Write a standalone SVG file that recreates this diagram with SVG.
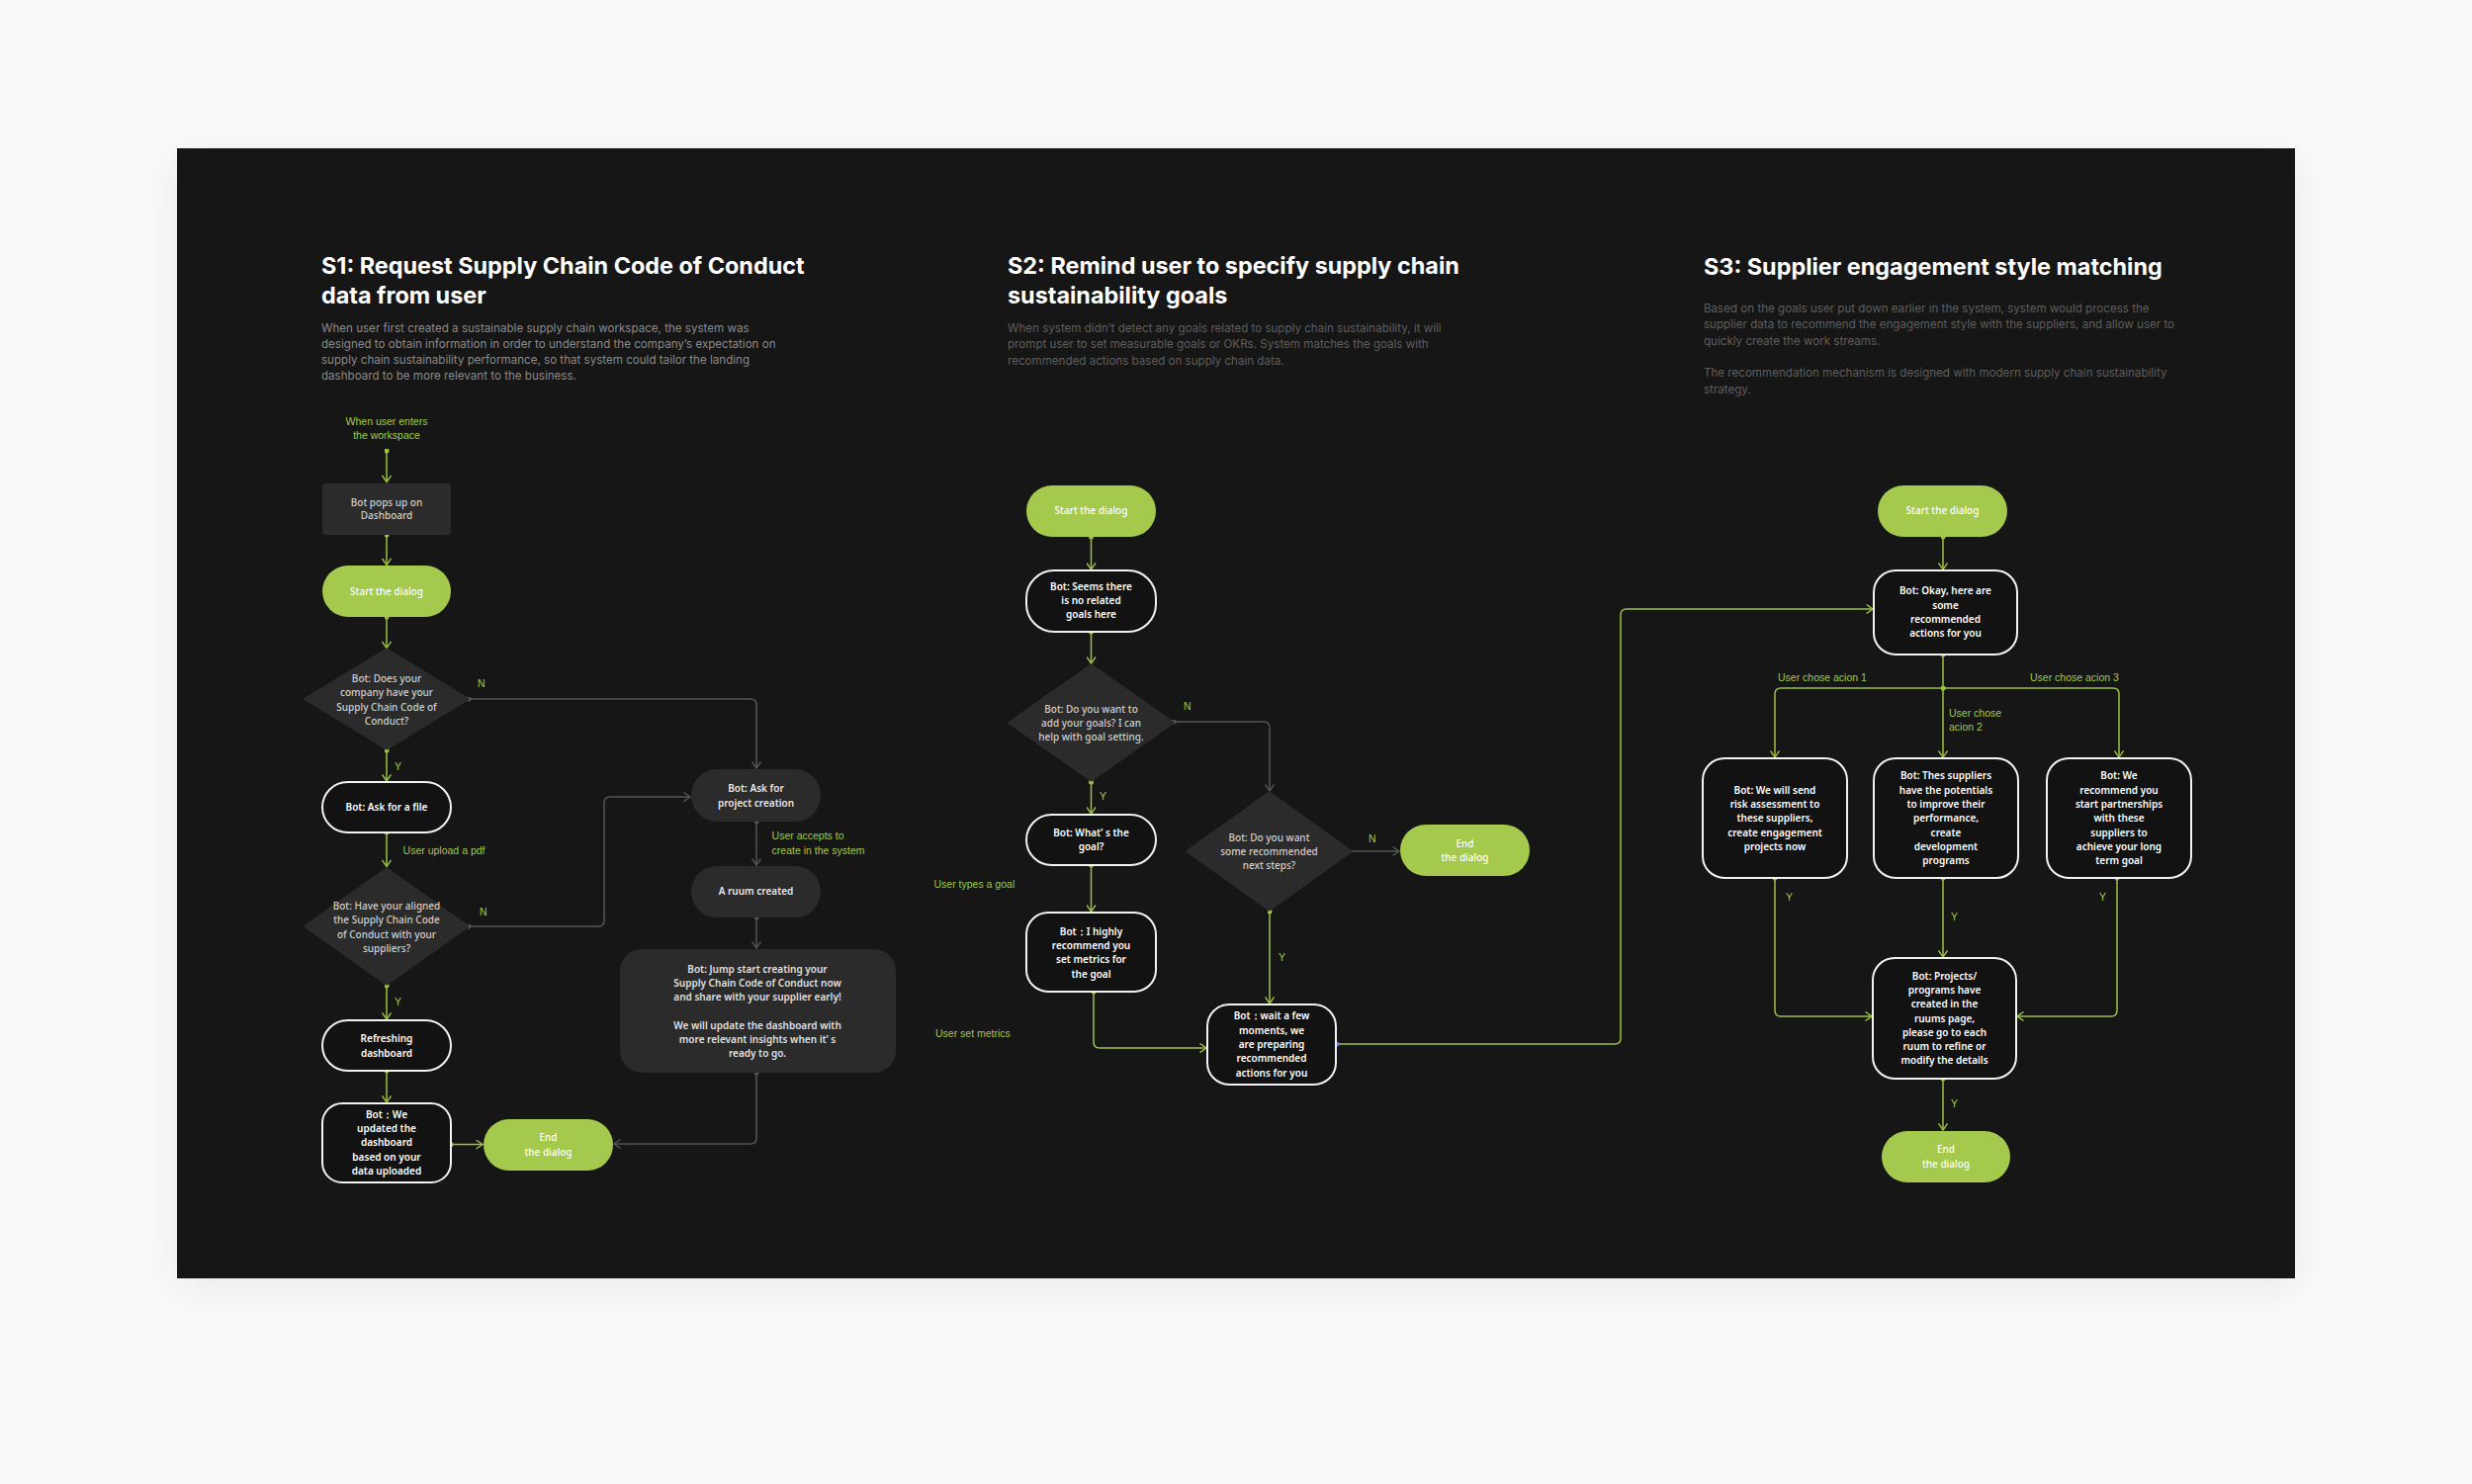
<svg xmlns="http://www.w3.org/2000/svg" width="2500" height="1501" viewBox="0 0 2500 1501">
<defs>
<filter id="sh" x="-10%" y="-10%" width="120%" height="130%"><feDropShadow dx="0" dy="10" stdDeviation="22" flood-color="#000" flood-opacity="0.07"/></filter>
<marker id="ag" viewBox="0 0 10 10" refX="9" refY="5" markerWidth="10" markerHeight="10" markerUnits="userSpaceOnUse" orient="auto"><path d="M2.5,0.5 L9,5 L2.5,9.5" fill="none" stroke="#9cc142" stroke-width="1.4"/></marker>
<marker id="ax" viewBox="0 0 10 10" refX="9" refY="5" markerWidth="10" markerHeight="10" markerUnits="userSpaceOnUse" orient="auto"><path d="M2.5,0.5 L9,5 L2.5,9.5" fill="none" stroke="#555" stroke-width="1.4"/></marker>
<marker id="dg" viewBox="0 0 6 6" refX="3" refY="3" markerWidth="5" markerHeight="5" markerUnits="userSpaceOnUse"><circle cx="3" cy="3" r="3" fill="#9cc142"/></marker>
<marker id="dx" viewBox="0 0 6 6" refX="3" refY="3" markerWidth="5" markerHeight="5" markerUnits="userSpaceOnUse"><circle cx="3" cy="3" r="3" fill="#555"/></marker>
<marker id="dv" viewBox="0 0 6 6" refX="3" refY="3" markerWidth="5" markerHeight="5" markerUnits="userSpaceOnUse"><circle cx="3" cy="3" r="3" fill="#6f6cf0"/></marker>
</defs>
<style>
.title{font-family:Inter,"Noto Sans",sans-serif;font-weight:700;font-size:23.4px;fill:#ffffff}
.desc{font-family:Inter,"Noto Sans",sans-serif;font-size:11.6px;fill:#8a8a8a}
.desc2{fill:#5e5e5e}
.n{font-family:"Noto Sans","Open Sans",sans-serif;font-size:10px;text-anchor:middle}
.nb{font-weight:600;fill:#ffffff}
.ng{font-weight:500;fill:#cfcfcf}
.nw{font-weight:500;fill:#ffffff}
.lbl{font-family:"Liberation Sans",Arial,sans-serif;font-size:10.5px;fill:#a3c94b}
.lblc{text-anchor:middle}
.green{fill:#a4c94c}
.gray{fill:#2b2b2b}
.dia{fill:#2b2b2b;stroke:#2b2b2b;stroke-width:3;stroke-linejoin:round}
.out{fill:#121212;stroke:#f2f2f2;stroke-width:2}
.cg{fill:none;stroke:#9cc142;stroke-width:1.5;marker-start:url(#dg);marker-end:url(#ag)}
.cx{fill:none;stroke:#555;stroke-width:1.5;marker-start:url(#dx);marker-end:url(#ax)}
.cv{fill:none;stroke:#9cc142;stroke-width:1.5;marker-start:url(#dv);marker-end:url(#ag)}
</style>
<rect x="0" y="0" width="2500" height="1501" fill="#fafafa"/>
<rect x="179" y="150" width="2142" height="1143" fill="#161616" filter="url(#sh)"/>

<g id="headings">
<text class="title" x="325" y="277">S1: Request Supply Chain Code of Conduct</text>
<text class="title" x="325" y="307">data from user</text>
<text class="desc" x="325" y="336">When user first created a sustainable supply chain workspace,  the system was</text>
<text class="desc" x="325" y="352">designed to obtain information in order to understand the company’s expectation on</text>
<text class="desc" x="325" y="368">supply chain sustainability performance, so that system could tailor the landing</text>
<text class="desc" x="325" y="384">dashboard to be more relevant to the business.</text>

<text class="title" x="1019" y="277">S2: Remind user to specify supply chain</text>
<text class="title" x="1019" y="307">sustainability goals</text>
<text class="desc desc2" x="1019" y="336">When system didn’t detect any goals related to supply chain sustainability, it will</text>
<text class="desc desc2" x="1019" y="352">prompt user to set measurable goals or OKRs. System matches the goals with</text>
<text class="desc desc2" x="1019" y="369">recommended actions based on supply chain data.</text>

<text class="title" x="1723" y="278">S3: Supplier engagement style matching</text>
<text class="desc desc2" x="1723" y="316">Based on the goals user put down earlier in the system, system would process the</text>
<text class="desc desc2" x="1723" y="332">supplier data to recommend the engagement style with the suppliers, and allow user to</text>
<text class="desc desc2" x="1723" y="349">quickly create the work streams.</text>
<text class="desc desc2" x="1723" y="381">The recommendation mechanism is designed with modern supply chain sustainability</text>
<text class="desc desc2" x="1723" y="398">strategy.</text>
</g>

<g id="connectors">
<path class="cg" d="M391,456 V487.5"/>
<path class="cg" d="M391,541 V571.5"/>
<path class="cg" d="M391,624 V655.5"/>
<path class="cg" d="M391,759 V790"/>
<path class="cx" d="M474,707 H759 Q765,707 765,713 V777"/>
<path class="cg" d="M391,842 V876.5"/>
<path class="cx" d="M474,937 H605 Q611,937 611,931 V812 Q611,806 617,806 H698"/>
<path class="cg" d="M391,997 V1031"/>
<path class="cg" d="M391,1083 V1115"/>
<path class="cg" d="M456,1157.5 H488"/>
<path class="cx" d="M765,831 V875"/>
<path class="cx" d="M765,928 V959"/>
<path class="cx" d="M765,1085 V1151 Q765,1157 759,1157 H621"/>

<path class="cg" d="M1103.5,543 V576"/>
<path class="cg" d="M1103.5,639 V671"/>
<path class="cg" d="M1103.5,791 V823"/>
<path class="cx" d="M1187,730 H1278 Q1284,730 1284,736 V800"/>
<path class="cg" d="M1103.5,875 V922"/>
<path class="cg" d="M1106,1003 V1054 Q1106,1060 1112,1060 H1220"/>
<path class="cg" d="M1284,922 V1015"/>
<path class="cx" d="M1363,861 H1415"/>
<path class="cv" d="M1352,1056 H1633 Q1639,1056 1639,1050 V622 Q1639,616 1645,616 H1894"/>

<path class="cg" d="M1965,543 V576"/>
<path class="cg" d="M1965,662 V766"/>
<path class="cg" d="M1965,696 H1801 Q1795,696 1795,702 V766"/>
<path class="cg" d="M1965,696 H2137 Q2143,696 2143,702 V766"/>
<path class="cg" d="M1795,888 V1022 Q1795,1028 1801,1028 H1893"/>
<path class="cg" d="M1965,888 V968"/>
<path class="cg" d="M2141,888 V1022 Q2141,1028 2135,1028 H2040"/>
<path class="cg" d="M1965,1091 V1143"/>
</g>

<g id="edge-labels">
<text class="lbl lblc" x="391" y="429.5">When user enters</text>
<text class="lbl lblc" x="391" y="444">the workspace</text>
<text class="lbl" x="483" y="695">N</text>
<text class="lbl" x="399" y="778.5">Y</text>
<text class="lbl" x="407.6" y="864.3">User upload a pdf</text>
<text class="lbl" x="485" y="925.8">N</text>
<text class="lbl" x="399" y="1016.8">Y</text>
<text class="lbl" x="780.6" y="849.3">User accepts to</text>
<text class="lbl" x="780.6" y="863.6">create in the system</text>

<text class="lbl" x="1197" y="717.8">N</text>
<text class="lbl" x="1112" y="808.5">Y</text>
<text class="lbl" x="944.5" y="897.8">User types a goal</text>
<text class="lbl" x="946" y="1049.3">User set metrics</text>
<text class="lbl" x="1384" y="851.8">N</text>
<text class="lbl" x="1293" y="971.8">Y</text>

<text class="lbl" x="1798" y="689.3">User chose acion 1</text>
<text class="lbl" x="2053" y="689.3">User chose acion 3</text>
<text class="lbl" x="1971" y="725">User chose</text>
<text class="lbl" x="1971" y="739.3">acion 2</text>
<text class="lbl" x="1806" y="911.2">Y</text>
<text class="lbl" x="1973" y="931.2">Y</text>
<text class="lbl" x="2123" y="911.2">Y</text>
<text class="lbl" x="1973" y="1120.2">Y</text>
</g>

<g id="s1-pops"><rect class="gray" x="326" y="489" width="130" height="52" rx="4"/>
<text class="n ng" x="391" y="511.5">Bot pops up on</text><text class="n ng" x="391" y="525.3">Dashboard</text></g>
<g id="s1-start"><rect class="green" x="326" y="572" width="130" height="52" rx="26"/>
<text class="n nw" x="391" y="601.6">Start the dialog</text></g>
<g id="s1-q1"><polygon class="dia" points="391,657 473,707 391,757 309,707"/>
<text class="n ng" x="391" y="690.3">Bot: Does your</text><text class="n ng" x="391" y="704.3">company have your</text><text class="n ng" x="391" y="718.6">Supply Chain Code of</text><text class="n ng" x="391" y="732.6">Conduct?</text></g>
<g id="s1-askfile"><rect class="out" x="326" y="791" width="130" height="51" rx="25.5"/>
<text class="n nb" x="391" y="820.3">Bot: Ask for a file</text></g>
<g id="s1-q2"><polygon class="dia" points="391,879 473,937 391,995 309,937"/>
<text class="n ng" x="391" y="919.6">Bot: Have your aligned</text><text class="n ng" x="391" y="934.2">the Supply Chain Code</text><text class="n ng" x="391" y="948.6">of Conduct with your</text><text class="n ng" x="391" y="963">suppliers?</text></g>
<g id="s1-refresh"><rect class="out" x="326" y="1032" width="130" height="51" rx="25.5"/>
<text class="n nb" x="391" y="1054.3">Refreshing</text><text class="n nb" x="391" y="1068.6">dashboard</text></g>
<g id="s1-updated"><rect class="out" x="326" y="1116" width="130" height="80" rx="20"/>
<text class="n nb" x="391" y="1131">Bot：We</text><text class="n nb" x="391" y="1145.3">updated the</text><text class="n nb" x="391" y="1159.3">dashboard</text><text class="n nb" x="391" y="1173.6">based on your</text><text class="n nb" x="391" y="1187.9">data uploaded</text></g>
<g id="s1-end"><rect class="green" x="489" y="1132" width="131" height="52" rx="26"/>
<text class="n nw" x="554.5" y="1154.3">End</text><text class="n nw" x="554.5" y="1168.6">the dialog</text></g>
<g id="s1-askproj"><rect class="gray" x="699" y="778" width="131" height="53" rx="26.5"/>
<text class="n nb" x="764.5" y="801.3" style="fill:#e8e8e8">Bot: Ask for</text><text class="n nb" x="764.5" y="815.6" style="fill:#e8e8e8">project creation</text></g>
<g id="s1-ruum"><rect class="gray" x="699" y="876" width="131" height="52" rx="26"/>
<text class="n nb" x="764.5" y="905.3" style="fill:#e8e8e8">A ruum created</text></g>
<g id="s1-jump"><rect class="gray" x="627" y="960" width="279" height="125" rx="22"/>
<text class="n nb" x="766" y="983.6" style="fill:#e0e0e0">Bot: Jump start creating your</text>
<text class="n nb" x="766" y="997.9" style="fill:#e0e0e0">Supply Chain Code of Conduct now</text>
<text class="n nb" x="766" y="1012.2" style="fill:#e0e0e0">and share with your supplier early!</text>
<text class="n nb" x="766" y="1040.8" style="fill:#e0e0e0">We will update the dashboard with</text>
<text class="n nb" x="766" y="1055.1" style="fill:#e0e0e0">more relevant insights when it’  s</text>
<text class="n nb" x="766" y="1069.4" style="fill:#e0e0e0">ready to go.</text></g>

<g id="s2-start"><rect class="green" x="1038" y="491" width="131" height="52" rx="26"/>
<text class="n nw" x="1103.5" y="520.3">Start the dialog</text></g>
<g id="s2-seems"><rect class="out" x="1038" y="577" width="131" height="62" rx="28"/>
<text class="n nb" x="1103.5" y="597">Bot: Seems there</text><text class="n nb" x="1103.5" y="611">is no related</text><text class="n nb" x="1103.5" y="625.3">goals here</text></g>
<g id="s2-q1"><polygon class="dia" points="1103.5,673 1186,731 1103.5,789 1021,731"/>
<text class="n ng" x="1103.5" y="721">Bot: Do you want to</text><text class="n ng" x="1103.5" y="734.6">add your goals? I can</text><text class="n ng" x="1103.5" y="749.3">help with goal setting.</text></g>
<g id="s2-what"><rect class="out" x="1038" y="824" width="131" height="51" rx="25.5"/>
<text class="n nb" x="1103.5" y="846.3">Bot: What’  s the</text><text class="n nb" x="1103.5" y="860.3">goal?</text></g>
<g id="s2-highly"><rect class="out" x="1038" y="923" width="131" height="80" rx="22"/>
<text class="n nb" x="1103.5" y="945.6">Bot：I highly</text><text class="n nb" x="1103.5" y="959.6">recommend you</text><text class="n nb" x="1103.5" y="974.3">set metrics for</text><text class="n nb" x="1103.5" y="988.6">the goal</text></g>
<g id="s2-q2"><polygon class="dia" points="1283.5,802 1366,861 1283.5,920 1201,861"/>
<text class="n ng" x="1283.5" y="850.6">Bot: Do you want</text><text class="n ng" x="1283.5" y="864.9">some recommended</text><text class="n ng" x="1283.5" y="879.3">next steps?</text></g>
<g id="s2-end"><rect class="green" x="1416" y="834" width="131" height="52" rx="26"/>
<text class="n nw" x="1481.5" y="856.9">End</text><text class="n nw" x="1481.5" y="871.3">the dialog</text></g>
<g id="s2-wait"><rect class="out" x="1221" y="1016" width="130" height="81" rx="22"/>
<text class="n nb" x="1286" y="1031.3">Bot：wait a few</text><text class="n nb" x="1286" y="1045.6">moments, we</text><text class="n nb" x="1286" y="1060.3">are preparing</text><text class="n nb" x="1286" y="1074.3">recommended</text><text class="n nb" x="1286" y="1088.6">actions for you</text></g>

<g id="s3-start"><rect class="green" x="1899" y="491" width="131" height="52" rx="26"/>
<text class="n nw" x="1964.5" y="520.3">Start the dialog</text></g>
<g id="s3-okay"><rect class="out" x="1895" y="577" width="145" height="85" rx="22"/>
<text class="n nb" x="1967.5" y="601.3">Bot: Okay, here are</text><text class="n nb" x="1967.5" y="615.6">some</text><text class="n nb" x="1967.5" y="629.6">recommended</text><text class="n nb" x="1967.5" y="643.9">actions for you</text></g>
<g id="s3-a1"><rect class="out" x="1722" y="767" width="146" height="121" rx="22"/>
<text class="n nb" x="1795" y="802.6">Bot: We will send</text><text class="n nb" x="1795" y="816.9">risk assessment to</text><text class="n nb" x="1795" y="831.3">these suppliers,</text><text class="n nb" x="1795" y="845.6">create engagement</text><text class="n nb" x="1795" y="859.9">projects now</text></g>
<g id="s3-a2"><rect class="out" x="1895" y="767" width="146" height="121" rx="22"/>
<text class="n nb" x="1968" y="788.3">Bot: Thes suppliers</text><text class="n nb" x="1968" y="802.6">have the potentials</text><text class="n nb" x="1968" y="816.9">to improve their</text><text class="n nb" x="1968" y="831.3">performance,</text><text class="n nb" x="1968" y="845.6">create</text><text class="n nb" x="1968" y="859.9">development</text><text class="n nb" x="1968" y="874.3">programs</text></g>
<g id="s3-a3"><rect class="out" x="2070" y="767" width="146" height="121" rx="22"/>
<text class="n nb" x="2143" y="788.3">Bot: We</text><text class="n nb" x="2143" y="802.6">recommend you</text><text class="n nb" x="2143" y="816.9">start partnerships</text><text class="n nb" x="2143" y="831.3">with these</text><text class="n nb" x="2143" y="845.6">suppliers to</text><text class="n nb" x="2143" y="859.9">achieve your long</text><text class="n nb" x="2143" y="874.3">term goal</text></g>
<g id="s3-projects"><rect class="out" x="1894" y="969" width="145" height="122" rx="22"/>
<text class="n nb" x="1966.5" y="990.6">Bot: Projects/</text><text class="n nb" x="1966.5" y="1004.9">programs  have</text><text class="n nb" x="1966.5" y="1019.3">created in the</text><text class="n nb" x="1966.5" y="1033.6">ruums page,</text><text class="n nb" x="1966.5" y="1047.9">please go to each</text><text class="n nb" x="1966.5" y="1062.3">ruum to refine or</text><text class="n nb" x="1966.5" y="1076.3">modify the details</text></g>
<g id="s3-end"><rect class="green" x="1903" y="1144" width="130" height="52" rx="26"/>
<text class="n nw" x="1968" y="1166.3">End</text><text class="n nw" x="1968" y="1180.6">the dialog</text></g>
</svg>
